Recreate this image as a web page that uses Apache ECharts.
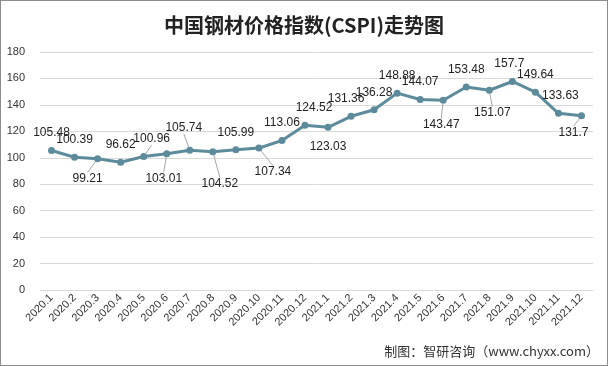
<!DOCTYPE html>
<html><head><meta charset="utf-8">
<script src="https://cdn.jsdelivr.net/npm/echarts@6/dist/echarts.min.js"></script>
<style>
html,body{margin:0;padding:0;background:#fff;}
#c{width:608px;height:366px;box-sizing:border-box;border:1px solid #8c8c8c;}
</style></head>
<body><div id="c"></div>
<script>
const categories = ['2020.1','2020.2','2020.3','2020.4','2020.5','2020.6','2020.7','2020.8','2020.9','2020.10','2020.11','2020.12',
  '2021.1','2021.2','2021.3','2021.4','2021.5','2021.6','2021.7','2021.8','2021.9','2021.10','2021.11','2021.12'];
const cspi = [105.48,100.39,99.21,96.62,100.96,103.01,105.74,104.52,105.99,107.34,113.06,124.52,
  123.03,131.36,136.28,148.88,144.07,143.47,153.48,151.07,157.7,149.64,133.63,131.7];
const yTicks = [0,20,40,60,80,100,120,140,160,180];
const labelSide = ['t','t','b','t','t','b','t','b','t','b','t','t','b','t','t','t','t','b','t','b','t','t','t','b'];

// label nudges (style only), in pixels, to mimic manually placed labels
const nudge = {2:[-10,0],4:[8,0],5:[-3,5],6:[-6,-5],7:[7,12],9:[14,4],11:[9,0],13:[-5,0],
  17:[-2,5],19:[3,3],20:[-3,0],22:[2,0],23:[-8,-3]};
const withLine = [2,4,5,6,7,9,17,19,23];

const chart = echarts.init(document.getElementById('c'));
const data = cspi.map((v,i)=>({
  value: v,
  label: { position: labelSide[i]==='t' ? 'top' : 'bottom', distance: labelSide[i]==='t' ? 8 : 10 },
  labelLine: { show: withLine.indexOf(i) >= 0 }
}));
chart.setOption({
  animation:false,
  title:{ text:'中国钢材价格指数(CSPI)走势图', left:'center', top:9,
    textStyle:{ fontSize:20, fontWeight:'bold', color:'#222', fontFamily:'Noto Sans CJK SC' } },
  grid:{ left:39, right:14, top:51, bottom:75 },
  xAxis:{ type:'category', data:categories, boundaryGap:true,
    axisLine:{ show:false }, axisTick:{ show:false },
    axisLabel:{ rotate:45, fontSize:11, color:'#333', margin:6, interval:0, fontFamily:'Liberation Sans' } },
  yAxis:{ type:'value', min:yTicks[0], max:yTicks[yTicks.length-1], interval:20,
    axisLine:{ show:false }, axisTick:{ show:false },
    axisLabel:{ fontSize:11, color:'#333', margin:15, fontFamily:'Liberation Sans' },
    splitLine:{ lineStyle:{ color:'#d9d9d9' } } },
  series:[{
    type:'line', data:data, symbol:'circle', symbolSize:7,
    lineStyle:{ color:'#5e8b9c', width:3 }, itemStyle:{ color:'#5e8b9c' },
    label:{ show:true, fontSize:12, color:'#222', fontFamily:'Liberation Sans' },
    labelLine:{ show:false, lineStyle:{ color:'#a6a6a6', width:1 } },
    labelLayout:function(p){ const n = nudge[p.dataIndex]; return n ? {dx:n[0], dy:n[1]} : {}; }
  }],
  graphic:[{ type:'text', right:8, top:344,
    style:{ text:'制图：智研咨询（www.chyxx.com）', fontSize:13, fill:'#333', fontFamily:'Noto Sans CJK SC' } }]
});
</script></body></html>
